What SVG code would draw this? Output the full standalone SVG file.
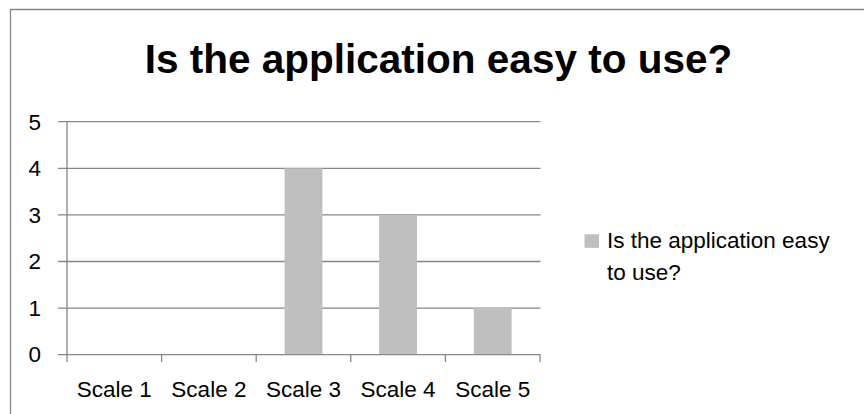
<svg xmlns="http://www.w3.org/2000/svg" width="864" height="414" viewBox="0 0 864 414">
<style>
.grid{stroke:#878787;stroke-width:1.3;fill:none}
.bar{fill:#bfbfbf}
.lbl{font-family:"Liberation Sans",Arial,sans-serif;font-size:22.5px;fill:#000}
.title{font-family:"Liberation Sans",Arial,sans-serif;font-size:40.5px;font-weight:bold;fill:#000}
</style>
<rect x="0" y="0" width="864" height="414" fill="#fff"/>
<path class="grid" d="M10.5,414 V9.5 H864"/>
<text id="title" class="title" x="438.5" y="73" text-anchor="middle">Is the application easy to use?</text>
<g id="gridlines">
<path class="grid" d="M58,121.7H540.5 M58,168.3H540.5 M58,214.9H540.5 M58,261.5H540.5 M58,308.1H540.5"/>
</g>
<g id="bars">
<rect class="bar" x="284.6" y="168.3" width="37.8" height="186.4"/>
<rect class="bar" x="379.2" y="214.9" width="37.8" height="139.8"/>
<rect class="bar" x="473.8" y="308.1" width="37.8" height="46.6"/>
</g>
<g id="axes">
<path class="grid" d="M67,121.7V354.7 M58,354.7H540.5 M67,354.7V362 M161.6,354.7V362 M256.2,354.7V362 M350.8,354.7V362 M445.4,354.7V362 M540,354.7V362"/>
</g>
<g id="ylabels" class="lbl" text-anchor="end">
<text x="41" y="129.5">5</text>
<text x="41" y="176">4</text>
<text x="41" y="222.6">3</text>
<text x="41" y="269.2">2</text>
<text x="41" y="315.8">1</text>
<text x="41" y="362.4">0</text>
</g>
<g id="xlabels" class="lbl" text-anchor="middle">
<text x="114.3" y="397">Scale 1</text>
<text x="208.9" y="397">Scale 2</text>
<text x="303.5" y="397">Scale 3</text>
<text x="398.1" y="397">Scale 4</text>
<text x="492.7" y="397">Scale 5</text>
</g>
<g id="legend">
<rect class="bar" x="584.5" y="234.3" width="14.5" height="13.5"/>
<text class="lbl" x="607" y="248">Is the application easy</text>
<text class="lbl" x="607" y="280">to use?</text>
</g>
</svg>
